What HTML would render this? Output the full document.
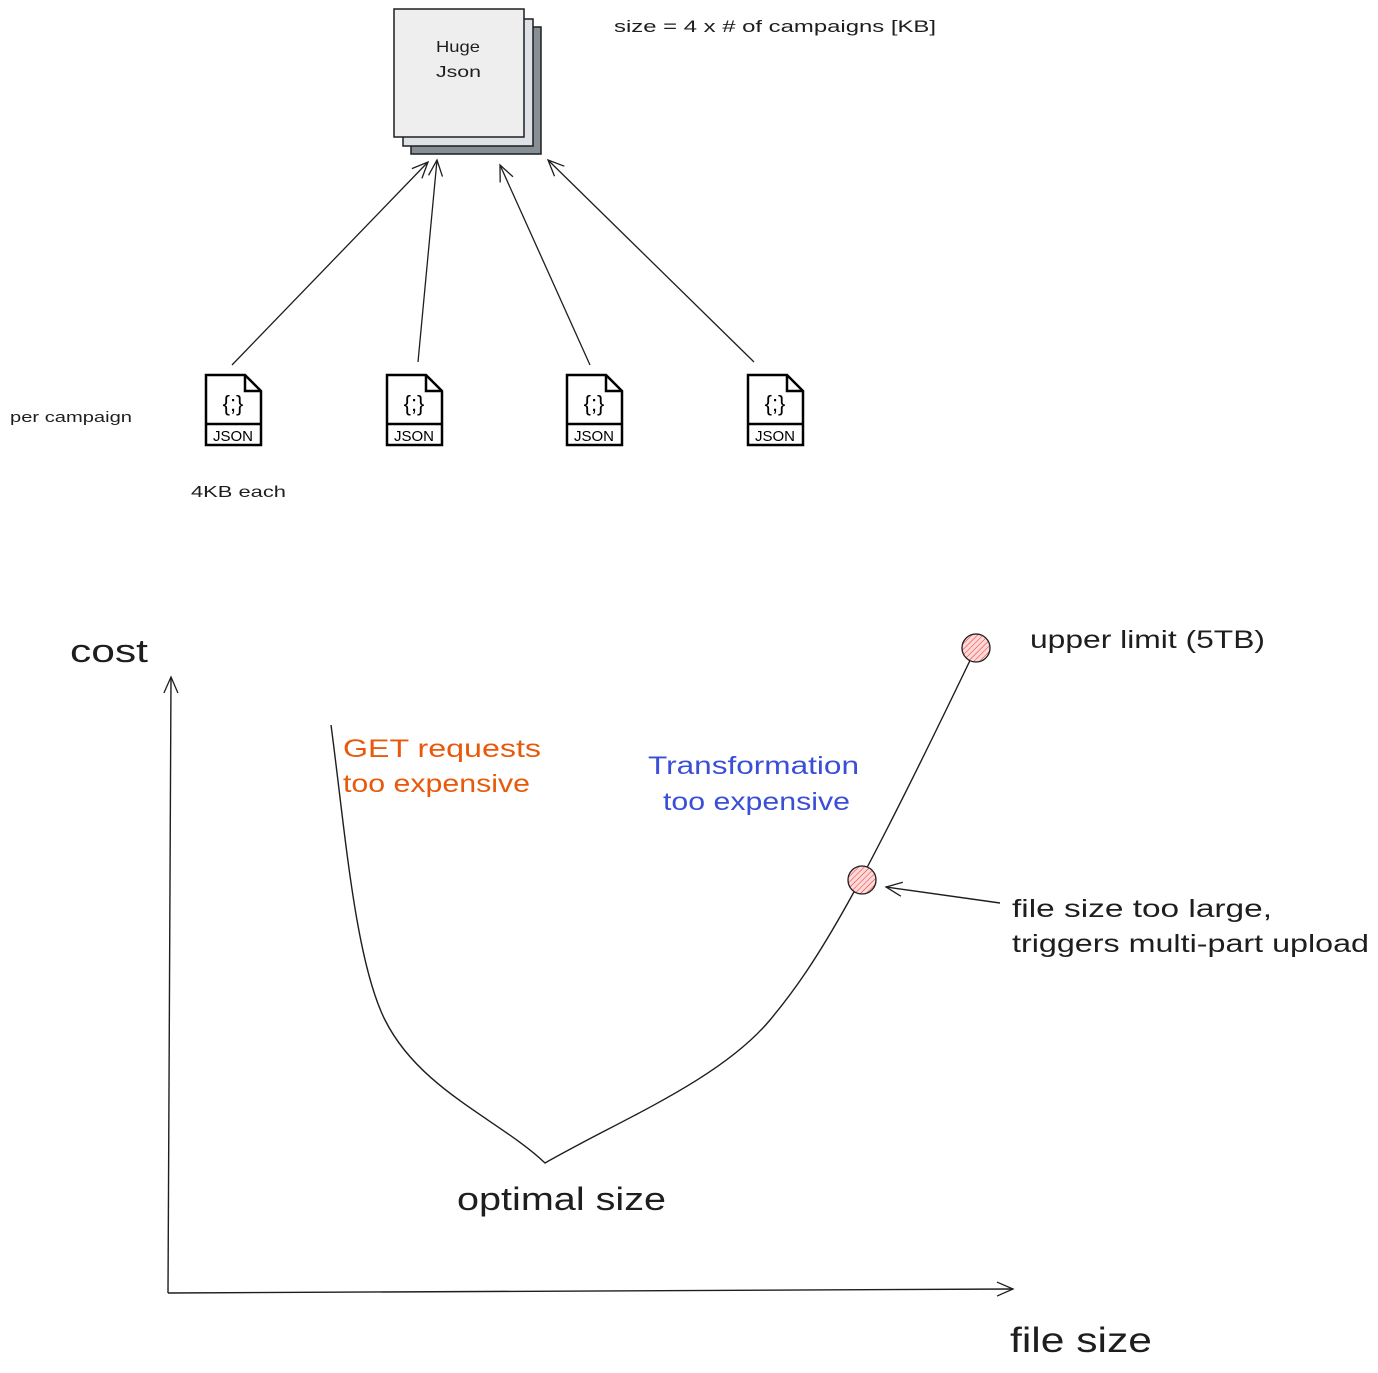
<!DOCTYPE html>
<html><head><meta charset="utf-8"><style>
html,body{margin:0;padding:0;background:#fff;}
svg{display:block;}
text{font-family:"Liberation Sans",sans-serif;fill:#1e1e1e;}
</style></head><body>
<svg width="1378" height="1373" viewBox="0 0 1378 1373" xmlns="http://www.w3.org/2000/svg">
<defs>
<pattern id="h" width="4" height="4" patternUnits="userSpaceOnUse" patternTransform="rotate(45)">
<rect width="4" height="4" fill="#ffd8d8"/><line x1="0" y1="0" x2="0" y2="4" stroke="#e03131" stroke-width="1"/></pattern>
<g id="js">
<path d="M1 1 H40 L56 17 V71 H1 Z" fill="#fff" stroke="#000" stroke-width="2.5"/>
<path d="M40 1 V17 H56" fill="none" stroke="#000" stroke-width="2.5"/>
<line x1="1" y1="50" x2="56" y2="50" stroke="#000" stroke-width="2.5"/>
<text x="28" y="37" font-size="22" text-anchor="middle" style="fill:#000">{;}</text>
<text x="28" y="67" font-size="15" text-anchor="middle" style="fill:#000">JSON</text>
</g>
<marker id="a" markerWidth="20" markerHeight="20" refX="18" refY="10" orient="auto" markerUnits="userSpaceOnUse">
<path d="M2 3 L18 10 L2 17" fill="none" stroke="#1e1e1e" stroke-width="1.3"/></marker>
</defs>
<rect x="411" y="27" width="130" height="127" fill="#868e96" stroke="#1e1e1e" stroke-width="1.5"/>
<rect x="403" y="19" width="130" height="127" fill="#dee2e6" stroke="#1e1e1e" stroke-width="1.5"/>
<rect x="394" y="9" width="130" height="128" fill="#eeeeee" stroke="#1e1e1e" stroke-width="1.5"/>
<text x="436" y="52" font-size="16" textLength="44" lengthAdjust="spacingAndGlyphs">Huge</text>
<text x="436" y="77" font-size="16" textLength="45" lengthAdjust="spacingAndGlyphs">Json</text>
<text x="614" y="32" font-size="17" textLength="322" lengthAdjust="spacingAndGlyphs">size = 4 x # of campaigns [KB]</text>
<g stroke="#1e1e1e" stroke-width="1.3" fill="none" marker-end="url(#a)">
<line x1="232" y1="365" x2="428" y2="162"/>
<line x1="418" y1="362" x2="437" y2="160"/>
<line x1="590" y1="365" x2="500" y2="165"/>
<line x1="754" y1="362" x2="548" y2="160"/>
</g>
<use href="#js" x="205" y="374"/>
<use href="#js" x="386" y="374"/>
<use href="#js" x="566" y="374"/>
<use href="#js" x="747" y="374"/>
<text x="10" y="422" font-size="15" textLength="122" lengthAdjust="spacingAndGlyphs">per campaign</text>
<text x="191" y="497" font-size="16" textLength="95" lengthAdjust="spacingAndGlyphs">4KB each</text>
<text x="70" y="662" font-size="32" textLength="78" lengthAdjust="spacingAndGlyphs">cost</text>
<g stroke="#1e1e1e" stroke-width="1.4" fill="none" marker-end="url(#a)">
<line x1="168" y1="1293" x2="171" y2="677"/>
<line x1="168" y1="1293" x2="1013" y2="1289"/>
<line x1="1000" y1="903" x2="886" y2="887"/>
</g>
<path d="M331 725 C345 830 355 960 385 1020 C420 1090 500 1120 545 1163 C620 1120 720 1080 770 1020 C820 960 860 890 976 648" fill="none" stroke="#1e1e1e" stroke-width="1.4"/>
<circle cx="976" cy="648" r="14" fill="url(#h)" stroke="#1e1e1e" stroke-width="1.3"/>
<circle cx="862" cy="880" r="14" fill="url(#h)" stroke="#1e1e1e" stroke-width="1.3"/>
<text x="343" y="757" font-size="25" textLength="198" lengthAdjust="spacingAndGlyphs" style="fill:#e8590c">GET requests</text>
<text x="343" y="792" font-size="25" textLength="187" lengthAdjust="spacingAndGlyphs" style="fill:#e8590c">too expensive</text>
<text x="648" y="774" font-size="25" textLength="211" lengthAdjust="spacingAndGlyphs" style="fill:#3b4ed8">Transformation</text>
<text x="663" y="810" font-size="25" textLength="187" lengthAdjust="spacingAndGlyphs" style="fill:#3b4ed8">too expensive</text>
<text x="1030" y="648" font-size="25" textLength="235" lengthAdjust="spacingAndGlyphs">upper limit (5TB)</text>
<text x="1012" y="917" font-size="25" textLength="260" lengthAdjust="spacingAndGlyphs">file size too large,</text>
<text x="1012" y="952" font-size="25" textLength="357" lengthAdjust="spacingAndGlyphs">triggers multi-part upload</text>
<text x="457" y="1210" font-size="32" textLength="209" lengthAdjust="spacingAndGlyphs">optimal size</text>
<text x="1010" y="1352" font-size="35" textLength="142" lengthAdjust="spacingAndGlyphs">file size</text>
</svg>
</body></html>
